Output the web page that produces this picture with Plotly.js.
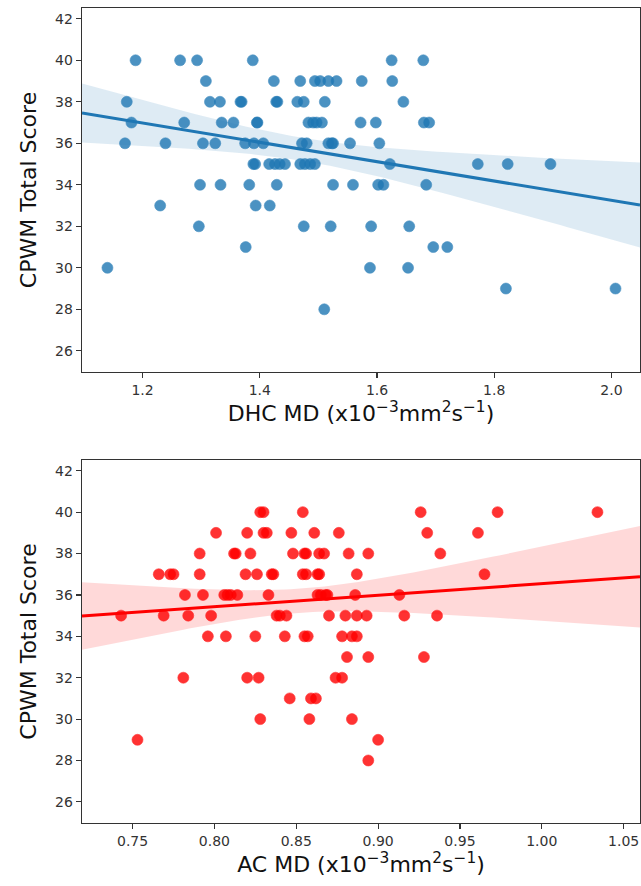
<!DOCTYPE html>
<html>
<head>
<meta charset="utf-8">
<script src="https://cdn.plot.ly/plotly-3.0.1.min.js"></script>
<style>html,body{margin:0;padding:0;background:#fff;}#chart{width:641px;height:886px;}</style>
</head>
<body>
<div id="chart"></div>
<script>
// ---- Top panel: DHC MD vs CPWM Total Score ----
const dhcMD = [
  1.188, 1.264, 1.293, 1.388, 1.625, 1.679,
  1.308, 1.424, 1.469, 1.494, 1.503, 1.517, 1.531, 1.574, 1.626,
  1.173, 1.315, 1.332, 1.367, 1.369, 1.428, 1.430, 1.464, 1.475, 1.511, 1.645,
  1.181, 1.271, 1.335, 1.355, 1.395, 1.396, 1.483, 1.491, 1.497, 1.506, 1.572, 1.598, 1.680, 1.689,
  1.170, 1.239, 1.303, 1.324, 1.375, 1.390, 1.406, 1.472, 1.480, 1.517, 1.523, 1.525, 1.554, 1.604,
  1.389, 1.392, 1.416, 1.426, 1.434, 1.443, 1.469, 1.477, 1.486, 1.494, 1.622, 1.772, 1.823, 1.896,
  1.298, 1.333, 1.382, 1.429, 1.525, 1.559, 1.602, 1.611, 1.684,
  1.230, 1.393, 1.417,
  1.296, 1.475, 1.521, 1.590, 1.655,
  1.376, 1.696, 1.720,
  1.140, 1.588, 1.653,
  1.820, 2.007,
  1.510
];
const dhcScore = [
  40, 40, 40, 40, 40, 40,
  39, 39, 39, 39, 39, 39, 39, 39, 39,
  38, 38, 38, 38, 38, 38, 38, 38, 38, 38, 38,
  37, 37, 37, 37, 37, 37, 37, 37, 37, 37, 37, 37, 37, 37,
  36, 36, 36, 36, 36, 36, 36, 36, 36, 36, 36, 36, 36, 36,
  35, 35, 35, 35, 35, 35, 35, 35, 35, 35, 35, 35, 35, 35,
  34, 34, 34, 34, 34, 34, 34, 34, 34,
  33, 33, 33,
  32, 32, 32, 32, 32,
  31, 31, 31,
  30, 30, 30,
  29, 29,
  28
];

// ---- Bottom panel: AC MD vs CPWM Total Score ----
const acMD = [
  0.828, 0.830, 0.854, 0.926, 0.973, 1.034,
  0.801, 0.820, 0.830, 0.832, 0.847, 0.861, 0.876, 0.930, 0.961,
  0.791, 0.812, 0.813, 0.822, 0.848, 0.855, 0.856, 0.864, 0.867, 0.882, 0.894, 0.938,
  0.766, 0.773, 0.775, 0.791, 0.819, 0.826, 0.835, 0.836, 0.854, 0.856, 0.863, 0.864, 0.887, 0.965,
  0.782, 0.793, 0.806, 0.808, 0.810, 0.814, 0.833, 0.863, 0.865, 0.868, 0.869, 0.886, 0.913,
  0.743, 0.769, 0.784, 0.798, 0.838, 0.840, 0.844, 0.870, 0.880, 0.887, 0.893, 0.916, 0.936,
  0.796, 0.807, 0.825, 0.843, 0.855, 0.857, 0.878, 0.884, 0.887,
  0.881, 0.894, 0.928,
  0.781, 0.820, 0.827, 0.874, 0.878,
  0.846, 0.859, 0.862,
  0.828, 0.858, 0.884,
  0.753, 0.900,
  0.894
];
const acScore = [
  40, 40, 40, 40, 40, 40,
  39, 39, 39, 39, 39, 39, 39, 39, 39,
  38, 38, 38, 38, 38, 38, 38, 38, 38, 38, 38, 38,
  37, 37, 37, 37, 37, 37, 37, 37, 37, 37, 37, 37, 37, 37,
  36, 36, 36, 36, 36, 36, 36, 36, 36, 36, 36, 36, 36,
  35, 35, 35, 35, 35, 35, 35, 35, 35, 35, 35, 35, 35,
  34, 34, 34, 34, 34, 34, 34, 34, 34,
  33, 33, 33,
  32, 32, 32, 32, 32,
  31, 31, 31,
  30, 30, 30,
  29, 29,
  28
];

const yTickVals = [26, 28, 30, 32, 34, 36, 38, 40, 42];
const dhcTickVals = [1.2, 1.4, 1.6, 1.8, 2.0];
const dhcTickText = ['1.2', '1.4', '1.6', '1.8', '2.0'];
const acTickVals = [0.75, 0.80, 0.85, 0.90, 0.95, 1.00, 1.05];
const acTickText = ['0.75', '0.80', '0.85', '0.90', '0.95', '1.00', '1.05'];

const dhcRange = [1.0966, 2.0488];
const acRange = [0.7191, 1.0600];
const yRange = [24.98, 42.52];

// linear fit with 95% confidence band (computed from the data)
function fitBand(xs, ys, xr) {
  const n = xs.length;
  const mx = xs.reduce((a, b) => a + b, 0) / n;
  const my = ys.reduce((a, b) => a + b, 0) / n;
  let sxx = 0, sxy = 0;
  for (let i = 0; i < n; i++) { sxx += (xs[i] - mx) ** 2; sxy += (xs[i] - mx) * (ys[i] - my); }
  const b = sxy / sxx, a = my - b * mx;
  let sse = 0;
  for (let i = 0; i < n; i++) sse += (ys[i] - (a + b * xs[i])) ** 2;
  const s = Math.sqrt(sse / (n - 2));
  const t = 1.986;
  const gx = [], gy = [], lo = [], hi = [];
  const N = 100;
  for (let k = 0; k < N; k++) {
    const x = xr[0] + (xr[1] - xr[0]) * k / (N - 1);
    const y = a + b * x;
    const se = s * Math.sqrt(1 / n + (x - mx) ** 2 / sxx);
    gx.push(x); gy.push(y); lo.push(y - t * se); hi.push(y + t * se);
  }
  return { gx, gy, lo, hi };
}

function panel(xs, ys, xr, color, fill, xa, ya) {
  const f = fitBand(xs, ys, xr);
  return [
    { x: f.gx, y: f.hi, xaxis: xa, yaxis: ya, mode: 'lines', line: { width: 0, color: fill }, hoverinfo: 'skip', showlegend: false },
    { x: f.gx, y: f.lo, xaxis: xa, yaxis: ya, mode: 'lines', line: { width: 0, color: fill }, fill: 'tonexty', fillcolor: fill, hoverinfo: 'skip', showlegend: false },
    { x: xs, y: ys, xaxis: xa, yaxis: ya, mode: 'markers', type: 'scatter',
      marker: { size: 11, color: color, opacity: 0.8, line: { width: 0.6, color: color } }, showlegend: false },
    { x: f.gx, y: f.gy, xaxis: xa, yaxis: ya, mode: 'lines', line: { width: 3, color: color }, showlegend: false }
  ];
}

const blue = '#1f77b4';
const red = '#ff0000';
const traces = [].concat(
  panel(dhcMD, dhcScore, dhcRange, blue, 'rgba(31,119,180,0.15)', 'x', 'y'),
  panel(acMD, acScore, acRange, red, 'rgba(255,0,0,0.15)', 'x2', 'y2')
);

const tickFont = { family: 'DejaVu Sans, sans-serif', size: 14, color: '#333' };
const titleFont = { family: 'DejaVu Sans, sans-serif', size: 22, color: '#111' };
const axBase = {
  showgrid: false, zeroline: false, showline: true, mirror: true,
  linecolor: '#333', linewidth: 1.3, ticks: 'outside', ticklen: 5, tickwidth: 1.2, tickcolor: '#333',
  tickfont: tickFont
};

const layout = {
  width: 641, height: 886,
  margin: { l: 82, r: 1, t: 8, b: 63 },
  paper_bgcolor: '#fff', plot_bgcolor: '#fff',
  showlegend: false,
  xaxis: Object.assign({}, axBase, {
    domain: [0, 1], anchor: 'y', range: dhcRange, tickvals: dhcTickVals, ticktext: dhcTickText,
    ticklabeloverflow: 'allow',
    title: { text: 'DHC MD (x10<sup>−3</sup>mm<sup>2</sup>s<sup>−1</sup>)', font: titleFont, standoff: 8 }
  }),
  yaxis: Object.assign({}, axBase, {
    domain: [0.5534, 1], anchor: 'x', range: yRange, tickvals: yTickVals,
    title: { text: 'CPWM Total Score', font: titleFont, standoff: 12 }
  }),
  xaxis2: Object.assign({}, axBase, {
    domain: [0, 1], anchor: 'y2', range: acRange, tickvals: acTickVals, ticktext: acTickText,
    ticklabeloverflow: 'allow',
    title: { text: 'AC MD (x10<sup>−3</sup>mm<sup>2</sup>s<sup>−1</sup>)', font: titleFont, standoff: 8 }
  }),
  yaxis2: Object.assign({}, axBase, {
    domain: [0, 0.4454], anchor: 'x2', range: yRange, tickvals: yTickVals,
    title: { text: 'CPWM Total Score', font: titleFont, standoff: 12 }
  })
};

Plotly.newPlot('chart', traces, layout, { staticPlot: true, displayModeBar: false });
</script>
</body>
</html>
